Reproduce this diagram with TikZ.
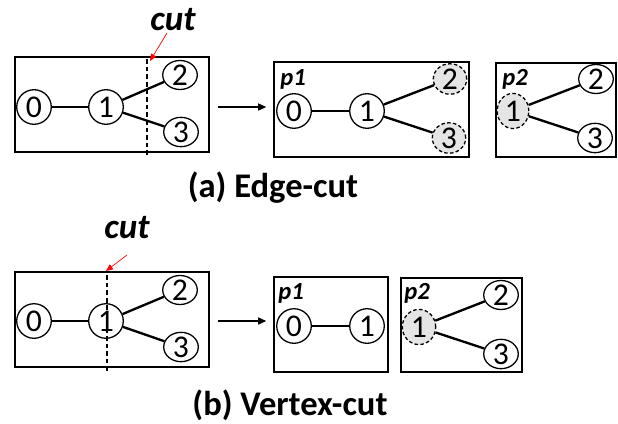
\documentclass[tikz,border=0pt]{standalone}
\usepackage{fontspec}
\setmainfont{Carlito}
\usetikzlibrary{arrows.meta,shapes.geometric,fit}

\begin{document}
\begin{tikzpicture}[x=0.03cm, y=-0.03cm,
    vtx/.style={ellipse, draw, line width=1.1pt, inner sep=0pt,
        minimum width=29.5pt, minimum height=29.5pt,
        font=\fontsize{27}{27}\selectfont},
    flat/.style={minimum height=24pt},
    ghost/.style={dash pattern=on 3pt off 2pt, fill=black!10,
        minimum width=28.5pt, minimum height=26pt},
    gbox/.style={draw, line width=1.1pt, inner sep=0pt},
    link/.style={line width=2pt},
    flow/.style={line width=1.1pt, -{Triangle[length=7pt, width=6pt]}},
    cutline/.style={line width=1pt, dash pattern=on 4pt off 2.5pt},
    cutarrow/.style={red, line width=0.6pt, -{Triangle[length=6pt, width=5pt]}},
    tag/.style={inner sep=0pt, font=\fontsize{21}{21}\selectfont\bfseries\itshape},
    cutlab/.style={inner sep=0pt, font=\fontsize{30}{30}\selectfont\bfseries\itshape},
    caption/.style={inner sep=0pt, font=\fontsize{29.5}{29.5}\selectfont\bfseries}]
    \useasboundingbox (0,0) rectangle (618,424);

    % (a) edge-cut
    \node[gbox, fit={(15,57) (209,152)}] (ga) {};
    \node[vtx] (a0) at (34,107) {0};
    \node[vtx] (a1) at (106,107) {1};
    \node[vtx, flat] (a2) at (180,75) {2};
    \node[vtx, flat] (a3) at (181,132) {3};
    \draw[link] (a0) -- (a1);
    \draw[link] (a1) -- (a2);
    \draw[link] (a1) -- (a3);

    \coordinate (ca1) at (147,59);
    \coordinate (ca2) at (147,155);
    \draw[cutline] (ca1) -- (ca2);
    \node[cutlab] (cuta) at (173,20) {cut};
    \coordinate (ra1) at (167,33);
    \coordinate (ra2) at (150,61);
    \draw[cutarrow] (ra1) -- (ra2);

    \node[gbox, fit={(274,62) (469,157)}] (pa1) {};
    \node[tag] (ta1) at (293,79) {p1};
    \node[vtx] (b0) at (294,111) {0};
    \node[vtx] (b1) at (367,111) {1};
    \node[vtx, ghost] (b2) at (450,79) {2};
    \node[vtx, ghost] (b3) at (449,138) {3};
    \draw[link] (b0) -- (b1);
    \draw[link] (b1) -- (b2);
    \draw[link] (b1) -- (b3);

    \node[gbox, fit={(496,63) (616,157)}] (pa2) {};
    \node[tag] (ta2) at (515,79) {p2};
    \node[vtx, ghost, minimum height=30pt, minimum width=27pt] (c1) at (513,111) {1};
    \node[vtx, flat] (c2) at (596,79) {2};
    \node[vtx, flat] (c3) at (595,138) {3};
    \draw[link] (c1) -- (c2);
    \draw[link] (c1) -- (c3);

    \draw[flow, shorten <=6.8pt, shorten >=6pt] (ga.east |- a1) -- (pa1.west |- a1);
    \node[caption] (capa) at (273,188) {(a) Edge-cut};

    % (b) vertex-cut
    \node[gbox, fit={(15,272) (209,367)}] (gb) {};
    \node[vtx] (d0) at (34,321) {0};
    \node[vtx] (d1) at (106,321) {1};
    \node[vtx, flat] (d2) at (180,290) {2};
    \node[vtx, flat] (d3) at (181,347) {3};
    \draw[link] (d0) -- (d1);
    \draw[link] (d1) -- (d2);
    \draw[link] (d1) -- (d3);

    \coordinate (cb1) at (107,275);
    \coordinate (cb2) at (107,372);
    \draw[cutline] (cb1) -- (cb2);
    \node[cutlab] (cutb) at (127,228) {cut};
    \coordinate (rb1) at (127,255);
    \coordinate (rb2) at (106,271);
    \draw[cutarrow] (rb1) -- (rb2);

    \node[gbox, fit={(274,277) (388,372)}] (pb1) {};
    \node[tag] (tb1) at (291,293) {p1};
    \node[vtx] (e0) at (294,326) {0};
    \node[vtx] (e1) at (367,326) {1};
    \draw[link] (e0) -- (e1);

    \node[gbox, fit={(401,278) (522,372)}] (pb2) {};
    \node[tag] (tb2) at (417,293) {p2};
    \node[vtx, ghost, minimum height=30pt] (f1) at (419,327) {1};
    \node[vtx, flat] (f2) at (501,295) {2};
    \node[vtx, flat] (f3) at (501,354) {3};
    \draw[link] (f1) -- (f2);
    \draw[link] (f1) -- (f3);

    \draw[flow, shorten <=6.8pt, shorten >=6pt] (gb.east |- d1) -- (pb1.west |- d1);
    \node[caption] (capb) at (290,405) {(b) Vertex-cut};
\end{tikzpicture}
\end{document}
